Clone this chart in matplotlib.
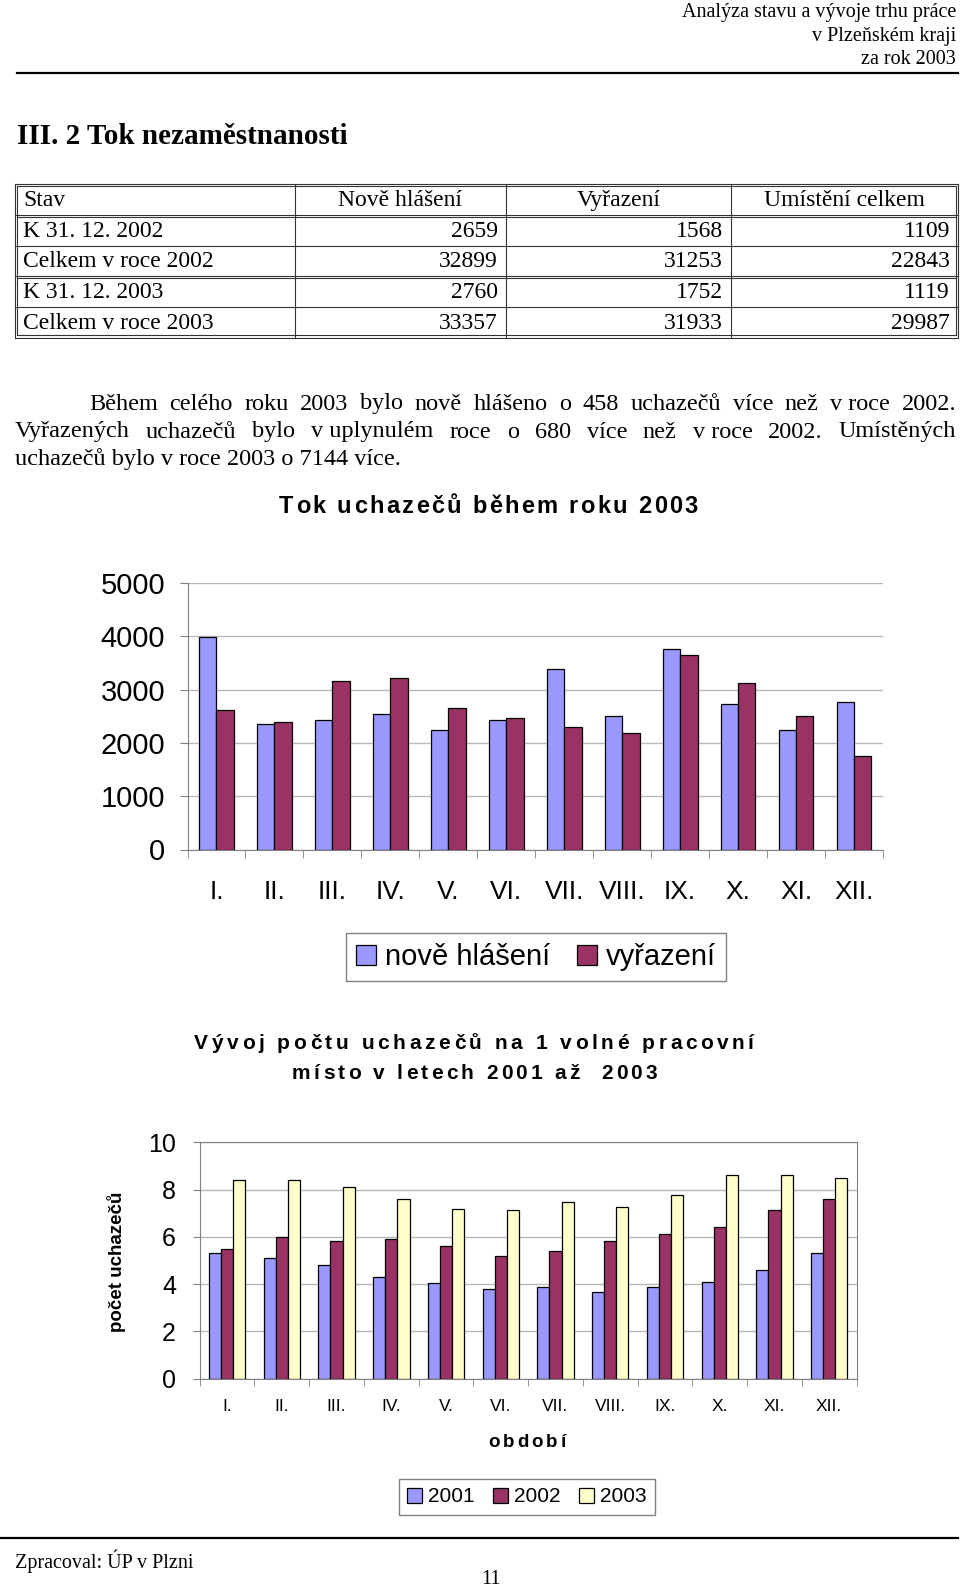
import numpy as np
import matplotlib
matplotlib.use('Agg')
import matplotlib.pyplot as plt

SERIF = ['Liberation Serif', 'DejaVu Serif']
SANS = ['Liberation Sans', 'DejaVu Sans']

# --- data ---
header_lines = ['Analýza stavu a vývoje trhu práce', 'v Plzeňském kraji', 'za rok 2003']
table_cols = ['Stav', 'Nově hlášení', 'Vyřazení', 'Umístění celkem']
table_rows = ['K 31. 12. 2002', 'Celkem v roce 2002', 'K 31. 12. 2003', 'Celkem v roce 2003']
tab_nove = [2659, 32899, 2760, 33357]
tab_vyraz = [1568, 31253, 1752, 31933]
tab_umist = [1109, 22843, 1119, 29987]

para = [
    ['Během', 'celého', 'roku', '2003', 'bylo', 'nově', 'hlášeno', 'o', '458', 'uchazečů',
     'více', 'než', 'v roce', '2002.'],
    ['Vyřazených', 'uchazečů', 'bylo', 'v uplynulém', 'roce', 'o', '680', 'více', 'než',
     'v roce', '2002.', 'Umístěných'],
    'uchazečů bylo v roce 2003 o 7144 více.',
]

months = ['I.', 'II.', 'III.', 'IV.', 'V.', 'VI.', 'VII.', 'VIII.', 'IX.', 'X.', 'XI.', 'XII.']
nove_hlaseni = [3980, 2360, 2430, 2540, 2240, 2430, 3390, 2510, 3760, 2730, 2240, 2760]
vyrazeni = [2610, 2390, 3170, 3210, 2660, 2470, 2290, 2180, 3640, 3130, 2510, 1752]

years = ['2001', '2002', '2003']
ratio_2001 = [5.33, 5.12, 4.82, 4.32, 4.04, 3.81, 3.88, 3.67, 3.88, 4.09, 4.60, 5.33]
ratio_2002 = [5.47, 5.98, 5.84, 5.91, 5.61, 5.19, 5.40, 5.84, 6.12, 6.41, 7.13, 7.62]
ratio_2003 = [8.42, 8.42, 8.13, 7.62, 7.20, 7.13, 7.48, 7.27, 7.78, 8.63, 8.63, 8.49]

BLUE, RED, YELLOW = '#9999FF', '#993366', '#FFFFCC'
GRAY = '#808080'
LINE = '#333333'

W, H = 960, 1589
fig = plt.figure(figsize=(W / 100, H / 100), dpi=100)

# page layer in pixel coordinates
bg = fig.add_axes([0, 0, 1, 1])
bg.set_xlim(0, W)
bg.set_ylim(H, 0)
bg.axis('off')
renderer = fig.canvas.get_renderer()


def rect(l, t, r, b):
    return [l / W, 1 - b / H, (r - l) / W, (b - t) / H]


def text_w(s, **kw):
    t = bg.text(0, 0, s, **kw)
    w = t.get_window_extent(renderer).width
    t.remove()
    return w


def spread(x0, x1, y, s, **kw):
    # letter-spaced text filling x0..x1, y = baseline
    adv = [text_w('|' + c + '|', **kw) - text_w('||', **kw) for c in s]
    extra = (x1 - x0 - sum(adv)) / (len(s) - 1)
    x = x0
    for c, a in zip(s, adv):
        if c != ' ':
            bg.text(x, y, c, ha='left', va='baseline', **kw)
        x += a + extra


def justify(x0, x1, y, words, **kw):
    ws = [text_w(w, **kw) for w in words]
    gap = (x1 - x0 - sum(ws)) / (len(words) - 1)
    x = x0
    for w, wd in zip(words, ws):
        bg.text(x, y, w, ha='left', va='baseline', **kw)
        x += wd + gap


# header
for txt, y in zip(header_lines, [12, 36, 60]):
    bg.text(956, y, txt, ha='right', va='center', family=SERIF, fontsize=14.5)
bg.plot([17, 958], [73, 73], color='black', lw=1.6)

bg.text(17, 137, 'III. 2 Tok nezaměstnanosti', ha='left', va='center',
        family=SERIF, fontsize=21, fontweight='bold')

# table
tx = [15.2, 295, 506, 731, 958]
ty = [183.5, 215, 245.5, 276, 307, 337.6]
dd = 2.2
tkw = dict(color=LINE, lw=0.8)
for i, y in enumerate(ty):
    bg.plot([tx[0], tx[-1]], [y, y], **tkw)
    if i in (0, 1, 3):
        bg.plot([tx[0] + dd, tx[-1] - dd], [y + dd, y + dd], **tkw)
    if i == 5:
        bg.plot([tx[0] + dd, tx[-1] - dd], [y - dd, y - dd], **tkw)
for i, x in enumerate(tx):
    bg.plot([x, x], [ty[0], ty[-1]], **tkw)
    if i == 0:
        bg.plot([x + dd, x + dd], [ty[0] + dd, ty[-1] - dd], **tkw)
    if i == len(tx) - 1:
        bg.plot([x - dd, x - dd], [ty[0] + dd, ty[-1] - dd], **tkw)

tfs = 17
yc = (ty[0] + ty[1]) / 2 + 1
bg.text(23, yc, table_cols[0], ha='left', va='center', family=SERIF, fontsize=tfs)
for j in range(1, 4):
    bg.text((tx[j] + tx[j + 1]) / 2, yc, table_cols[j], ha='center', va='center',
            family=SERIF, fontsize=tfs)
right_x = [498, 723, 950]
for i, lab in enumerate(table_rows):
    yc = (ty[i + 1] + ty[i + 2]) / 2 + 1
    bg.text(23, yc, lab, ha='left', va='center', family=SERIF, fontsize=tfs)
    for xr, col in zip(right_x, [tab_nove, tab_vyraz, tab_umist]):
        bg.text(xr, yc, str(col[i]), ha='right', va='center', family=SERIF, fontsize=tfs)

# paragraph (baselines)
pkw = dict(family=SERIF, fontsize=17.5)
justify(89, 956, 409.5, para[0], **pkw)
justify(15.2, 956, 437.5, para[1], **pkw)
bg.text(15.2, 465.5, para[2], ha='left', va='baseline', **pkw)

# chart 1
spread(279, 698, 513, 'Tok uchazečů během roku 2003', family=SANS, fontsize=17,
       fontweight='bold')
ax1 = fig.add_axes(rect(187.5, 583, 883, 849.5))
x = np.arange(len(months))
bw = 0.30
b1 = ax1.bar(x - bw / 2, nove_hlaseni, bw, color=BLUE, edgecolor='black', lw=0.9,
             label='nově hlášení')
b2 = ax1.bar(x + bw / 2, vyrazeni, bw, color=RED, edgecolor='black', lw=0.9,
             label='vyřazení')
ax1.set_xlim(-0.5, len(months) - 0.5)
ax1.set_ylim(0, 5000)
ax1.set_yticks(range(0, 5001, 1000))
ax1.yaxis.grid(True, color='#b8b8b8', lw=1)
ax1.set_axisbelow(True)
for s in ['top', 'right']:
    ax1.spines[s].set_visible(False)
for s in ['left', 'bottom']:
    ax1.spines[s].set_color(GRAY)
ax1.set_xticks(x)
ax1.set_xticklabels(months, family=SANS, fontsize=19)
ax1.set_xticks(np.arange(-0.5, len(months)), minor=True)
ax1.tick_params(axis='x', which='major', length=0, pad=22)
ax1.tick_params(axis='x', which='minor', length=6, color=GRAY)
ax1.tick_params(axis='y', length=6, color=GRAY, pad=10, labelsize=21)
for lab in ax1.get_yticklabels():
    lab.set_family(SANS)
fig.legend(handles=[b1, b2], loc='center', bbox_to_anchor=(536 / W, 1 - 957 / H), ncol=2,
           prop={'family': SANS, 'size': 21}, fancybox=False, edgecolor=GRAY,
           framealpha=1, handlelength=0.7, handleheight=0.7, handletextpad=0.3,
           columnspacing=0.9, borderpad=0.35)

# chart 2
spread(194, 754, 1049, 'Vývoj počtu uchazečů na 1 volné pracovní', family=SANS,
       fontsize=15, fontweight='bold')
spread(292, 657, 1079, 'místo v letech 2001 až  2003', family=SANS, fontsize=15,
       fontweight='bold')
ax2 = fig.add_axes(rect(199.7, 1142.4, 856.6, 1378.6))
bw2 = 0.222
bars2 = []
for k, (vals, col, yr) in enumerate(zip([ratio_2001, ratio_2002, ratio_2003],
                                        [BLUE, RED, YELLOW], years)):
    bars2.append(ax2.bar(x + (k - 1) * bw2, vals, bw2, color=col, edgecolor='black',
                         lw=0.9, label=yr))
ax2.set_xlim(-0.5, len(months) - 0.5)
ax2.set_ylim(0, 10)
ax2.set_yticks(range(0, 11, 2))
ax2.yaxis.grid(True, color='#b8b8b8', lw=1)
ax2.set_axisbelow(True)
for s in ax2.spines.values():
    s.set_color(GRAY)
ax2.set_xticks(x)
ax2.set_xticklabels(months, family=SANS, fontsize=12.5)
ax2.set_xticks(np.arange(-0.5, len(months)), minor=True)
ax2.tick_params(axis='x', which='major', length=0, pad=15)
ax2.tick_params(axis='x', which='minor', length=5, color=GRAY)
ax2.tick_params(axis='y', length=5, color=GRAY, pad=12, labelsize=18)
for lab in ax2.get_yticklabels():
    lab.set_family(SANS)
bg.text(117, 1262, 'počet uchazečů', rotation=90, ha='center', va='center',
        family=SANS, fontsize=13.5, fontweight='bold')
spread(488, 566, 1447, 'období', family=SANS, fontsize=13.5, fontweight='bold')
fig.legend(handles=bars2, loc='center', bbox_to_anchor=(527 / W, 1 - 1497 / H), ncol=3,
           prop={'family': SANS, 'size': 15}, fancybox=False, edgecolor=GRAY,
           framealpha=1, handlelength=0.7, handleheight=0.7, handletextpad=0.3,
           columnspacing=0.9, borderpad=0.4)

# footer
bg.plot([0, 958], [1538, 1538], color='black', lw=1.6)
bg.text(15.2, 1561, 'Zpracoval: ÚP v Plzni', ha='left', va='center', family=SERIF,
        fontsize=14.5)
bg.text(491, 1579, '11', ha='center', va='center', family=SERIF, fontsize=14.5)

fig.savefig('out.png', dpi=100)
